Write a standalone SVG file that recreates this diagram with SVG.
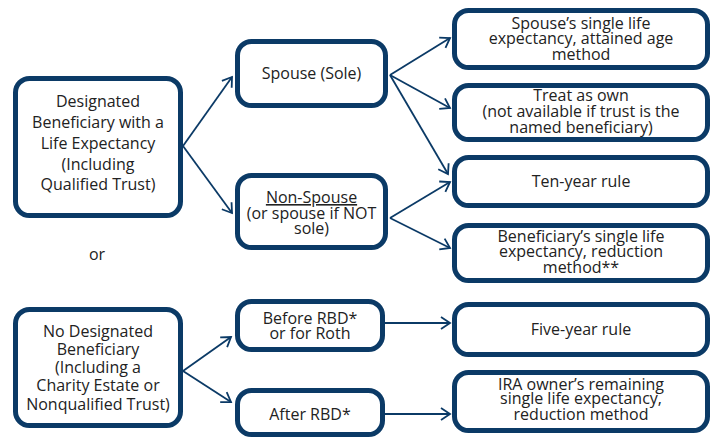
<svg xmlns="http://www.w3.org/2000/svg" width="714" height="438" viewBox="0 0 714 438">
<style>
.box{fill:#fff;stroke:#0b3a66;stroke-width:5}
.t{font-family:"Open Sans","Noto Sans",sans-serif;font-size:16px;fill:#222;text-anchor:middle}
.c{fill:none;stroke:#0b3a66;stroke-width:1.8}
</style>
<defs>
<marker id="ah" markerUnits="userSpaceOnUse" viewBox="-11 -8 13 16" refX="0" refY="0" markerWidth="13" markerHeight="16" orient="auto">
<path d="M-9,-6 L0,0 L-9,6" fill="none" stroke="#0b3a66" stroke-width="1.8"/>
</marker>
</defs>
<rect x="0" y="0" width="714" height="438" fill="#fff"/>
<g id="connectors" class="c" marker-end="url(#ah)">
<path d="M183,146 L232,77" marker-end="url(#ah)"/>
<path d="M183,146 L232,213" marker-end="url(#ah)"/>
<path d="M390,75 L450,38" marker-end="url(#ah)"/>
<path d="M390,75 L450,108" marker-end="url(#ah)"/>
<path d="M390,75 L448,174" marker-end="url(#ah)"/>
<path d="M390,218 L450,182" marker-end="url(#ah)"/>
<path d="M390,218 L450,248" marker-end="url(#ah)"/>
<path d="M183,371 L231,337" marker-end="url(#ah)"/>
<path d="M183,371 L231,402" marker-end="url(#ah)"/>
<path d="M385,323 L450,323" marker-end="url(#ah)"/>
<path d="M385,414 L450,414" marker-end="url(#ah)"/>
</g>
<g id="designated">
<rect class="box" x="15.5" y="78.5" width="165" height="137" rx="14"/>
<text class="t" x="98" y="107">Designated</text>
<text class="t" x="98" y="128">Beneficiary with a</text>
<text class="t" x="98" y="149">Life Expectancy</text>
<text class="t" x="98" y="170">(Including</text>
<text class="t" x="98" y="190">Qualified Trust)</text>
</g>
<g id="or"><text class="t" x="97" y="260">or</text></g>
<g id="spouse">
<rect class="box" x="237.5" y="41.5" width="148" height="64" rx="14"/>
<text class="t" x="311.5" y="79">Spouse (Sole)</text>
</g>
<g id="nonspouse">
<rect class="box" x="237.5" y="175.5" width="148" height="72" rx="14"/>
<text class="t" x="311.5" y="203" text-decoration="underline">Non-Spouse</text>
<text class="t" x="311.5" y="219">(or spouse if NOT</text>
<text class="t" x="311.5" y="234">sole)</text>
</g>
<g id="attained">
<rect class="box" x="454.5" y="10.5" width="253" height="57" rx="14"/>
<text class="t" x="581" y="28.5">Spouse’s single life</text>
<text class="t" x="581" y="44">expectancy, attained age</text>
<text class="t" x="581" y="60">method</text>
</g>
<g id="treatown">
<rect class="box" x="454.5" y="85.5" width="253" height="54" rx="14"/>
<text class="t" x="581" y="101">Treat as own</text>
<text class="t" x="581" y="117">(not available if trust is the</text>
<text class="t" x="581" y="132.5">named beneficiary)</text>
</g>
<g id="tenyear">
<rect class="box" x="454.5" y="157.5" width="253" height="48" rx="14"/>
<text class="t" x="581" y="186.5">Ten-year rule</text>
</g>
<g id="reduction">
<rect class="box" x="454.5" y="225.5" width="253" height="55" rx="14"/>
<text class="t" x="581" y="241.5">Beneficiary’s single life</text>
<text class="t" x="581" y="257">expectancy, reduction</text>
<text class="t" x="581" y="273">method**</text>
</g>
<g id="nodesignated">
<rect class="box" x="15.5" y="309.5" width="165" height="116" rx="14"/>
<text class="t" x="98" y="336.5">No Designated</text>
<text class="t" x="98" y="354.75">Beneficiary</text>
<text class="t" x="98" y="373">(Including a</text>
<text class="t" x="98" y="391.25">Charity Estate or</text>
<text class="t" x="98" y="409.5">Nonqualified Trust)</text>
</g>
<g id="before">
<rect class="box" x="237.5" y="301.5" width="145" height="48" rx="14"/>
<text class="t" x="310" y="323.5">Before RBD*</text>
<text class="t" x="310" y="339">or for Roth</text>
</g>
<g id="after">
<rect class="box" x="237.5" y="390.5" width="145" height="44" rx="14"/>
<text class="t" x="310" y="419.5">After RBD*</text>
</g>
<g id="fiveyear">
<rect class="box" x="454.5" y="304.5" width="253" height="50" rx="14"/>
<text class="t" x="581" y="334.5">Five-year rule</text>
</g>
<g id="iraowner">
<rect class="box" x="454.5" y="372.5" width="253" height="58" rx="14"/>
<text class="t" x="581" y="389.5">IRA owner’s remaining</text>
<text class="t" x="581" y="404">single life expectancy,</text>
<text class="t" x="581" y="419.5">reduction method</text>
</g>
</svg>
